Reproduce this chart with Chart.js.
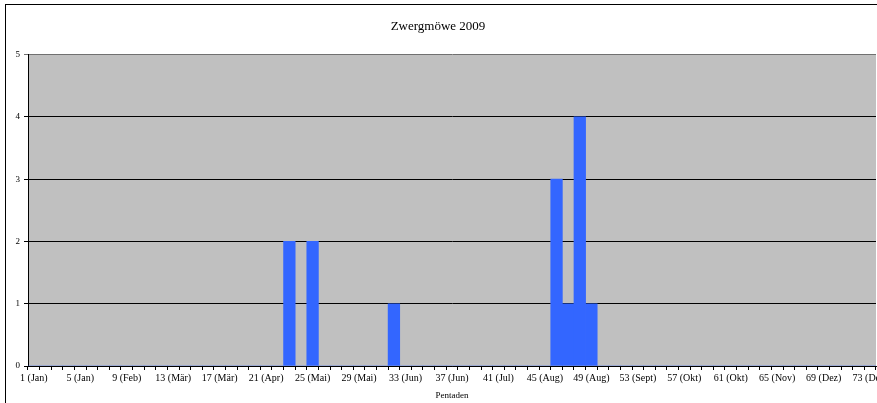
<!DOCTYPE html>
<html>
<head>
<meta charset="utf-8">
<script src="https://cdn.jsdelivr.net/npm/chart.js@4/dist/chart.umd.min.js"></script>
<style>
  html, body { margin: 0; padding: 0; background: #fff; overflow: hidden; }
  #wrap { position: absolute; left: 0; top: 0; width: 877px; height: 403px; overflow: hidden; }
  #frame { position: absolute; left: 5px; top: 4px; width: 872px; height: 399px; border-left: 1px solid #000; border-top: 1px solid #000; box-sizing: border-box; }
  #chart { position: absolute; left: 0; top: 0; }
</style>
</head>
<body>
<div id="wrap">
  <div id="frame"></div>
  <canvas id="chart" width="900" height="403"></canvas>
</div>
<script>
// Pentaden 1..73, Zwergmöwe 2009
const pentads = Array.from({ length: 73 }, (_, i) => i + 1)
const tickLabels = [
  '1 (Jan)', '5 (Jan)', '9 (Feb)', '13 (Mär)', '17 (Mär)', '21 (Apr)', '25 (Mai)',
  '29 (Mai)', '33 (Jun)', '37 (Jun)', '41 (Jul)', '45 (Aug)', '49 (Aug)', '53 (Sept)',
  '57 (Okt)', '61 (Okt)', '65 (Nov)', '69 (Dez)', '73 (Dez)'
]
const counts = [
  0, 0, 0, 0, 0, 0, 0, 0, 0, 0,
  0, 0, 0, 0, 0, 0, 0, 0, 0, 0,
  0, 0, 2, 0, 2, 0, 0, 0, 0, 0,
  0, 1, 0, 0, 0, 0, 0, 0, 0, 0,
  0, 0, 0, 0, 0, 3, 1, 4, 1, 0,
  0, 0, 0, 0, 0, 0, 0, 0, 0, 0,
  0, 0, 0, 0, 0, 0, 0, 0, 0, 0,
  0, 0, 0
]
const yTicks = [0, 1, 2, 3, 4, 5]

const serif = 'Liberation Serif'

const plotBackground = {
  id: 'plotBackground',
  beforeDraw(chart) {
    const { ctx, chartArea } = chart
    ctx.save()
    ctx.fillStyle = '#c0c0c0'
    ctx.fillRect(chartArea.left, chartArea.top, chartArea.right - chartArea.left, chartArea.bottom - chartArea.top)
    ctx.restore()
  }
}

new Chart(document.getElementById('chart'), {
  type: 'bar',
  data: {
    labels: pentads,
    datasets: [
      {
        data: counts,
        backgroundColor: '#3366ff',
        borderWidth: 0,
        barPercentage: 1,
        categoryPercentage: 1
      }
    ]
  },
  options: {
    responsive: false,
    animation: false,
    devicePixelRatio: 1,
    layout: { padding: { left: 0, right: 24, top: 0, bottom: 0 } },
    plugins: {
      legend: { display: false },
      tooltip: { enabled: false },
      title: {
        display: true,
        text: 'Zwergmöwe 2009',
        color: '#000',
        font: { family: serif, size: 13, weight: 'normal' },
        padding: { top: 19, bottom: 20 }
      }
    },
    scales: {
      x: {
        offset: true,
        grid: { offset: true, drawOnChartArea: false, drawTicks: true, tickLength: 4, color: '#000' },
        border: { color: '#000' },
        ticks: {
          autoSkip: false,
          maxRotation: 0,
          padding: 2,
          color: '#000',
          font: { family: serif, size: 10 },
          callback: (v, i) => (i % 4 === 0 ? tickLabels[i / 4] : '')
        },
        title: {
          display: true,
          text: 'Pentaden',
          color: '#000',
          font: { family: serif, size: 9 },
          padding: { top: 0, bottom: 2 }
        },
        afterFit: s => { s.height = 37 }
      },
      y: {
        min: 0,
        max: 5,
        afterBuildTicks: s => { s.ticks = yTicks.map(v => ({ value: v })) },
        grid: {
          tickLength: 4,
          color: ctx => (ctx.tick && ctx.tick.value === 5 ? '#707070' : '#000')
        },
        border: { color: '#000' },
        ticks: { padding: 4, color: '#000', font: { family: serif, size: 9 } },
        afterFit: s => { s.width = 28 }
      }
    }
  },
  plugins: [plotBackground]
})
</script>
</body>
</html>
